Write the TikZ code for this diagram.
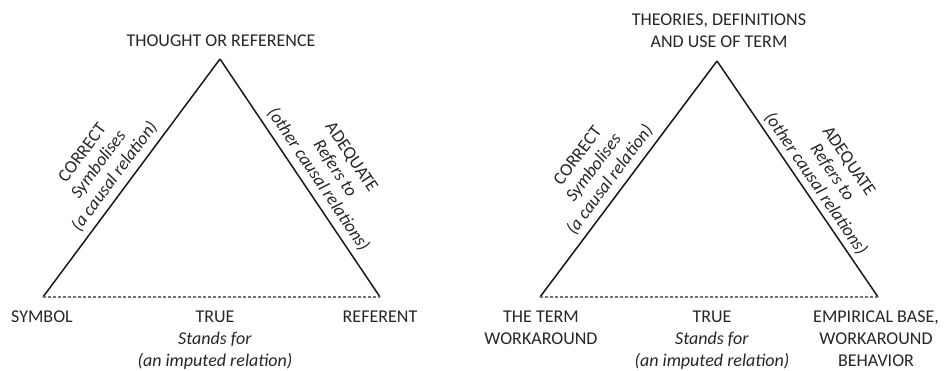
\documentclass[tikz,border=0pt]{standalone}
\usepackage{fontspec}
\setmainfont{Carlito}
\usetikzlibrary{positioning}

\begin{document}
\begin{tikzpicture}[
    x=1pt, y=1pt,
    lbl/.style={inner sep=0pt, text=black!85, align=center, font=\fontsize{18}{22}\selectfont},
    side/.style={lbl, sloped, font=\fontsize{18}{20}\selectfont},
    leg/.style={line width=1.5pt, black!90},
    base/.style={densely dashed, line width=1.2pt, black!55}
]
\useasboundingbox (0,0) rectangle (944,371);

% first triangle
\coordinate (sym) at (43,74);
\coordinate (thought) at (220,312);
\coordinate (ref) at (380,74);

\node[lbl, anchor=base] (thoughtlbl) at (221,324) {THOUGHT OR REFERENCE};
\node[lbl, anchor=north] (symlbl) at (42,60) {SYMBOL};
\node[lbl, anchor=north] (reflbl) at (380,60) {REFERENT};
\node[lbl, anchor=north] (true1) at (215,60) {TRUE\\ \textit{Stands for}\\ \textit{(an imputed relation)}};

\draw[leg] (sym) -- (thought) node[side, pos=0.47, above=6pt] {CORRECT\\ \textit{Symbolises}\\ \textit{(a causal relation)}};
\draw[leg] (thought) -- (ref) node[side, pos=0.54, above=6pt] {ADEQUATE\\ \textit{Refers to}\\ \textit{(other causal relations)}};
\draw[base] (sym) -- (ref);

% second triangle
\coordinate (term) at (540,74);
\coordinate (theory) at (717,310);
\coordinate (emp) at (878,74);

\node[lbl, anchor=north] (theorylbl) at (719,357) {THEORIES, DEFINITIONS\\ AND USE OF TERM};
\node[lbl, anchor=north] (termlbl) at (541,60) {THE TERM\\ WORKAROUND};
\node[lbl, anchor=north] (emplbl) at (876,60) {EMPIRICAL BASE,\\ WORKAROUND\\ BEHAVIOR};
\node[lbl, anchor=north] (true2) at (712,60) {TRUE\\ \textit{Stands for}\\ \textit{(an imputed relation)}};

\draw[leg] (term) -- (theory) node[side, pos=0.46, above=6pt] {CORRECT\\ \textit{Symbolises}\\ \textit{(a causal relation)}};
\draw[leg] (theory) -- (emp) node[side, pos=0.55, above=4pt] {ADEQUATE\\ \textit{Refers to}\\ \textit{(other causal relations)}};
\draw[base] (term) -- (emp);
\end{tikzpicture}
\end{document}
